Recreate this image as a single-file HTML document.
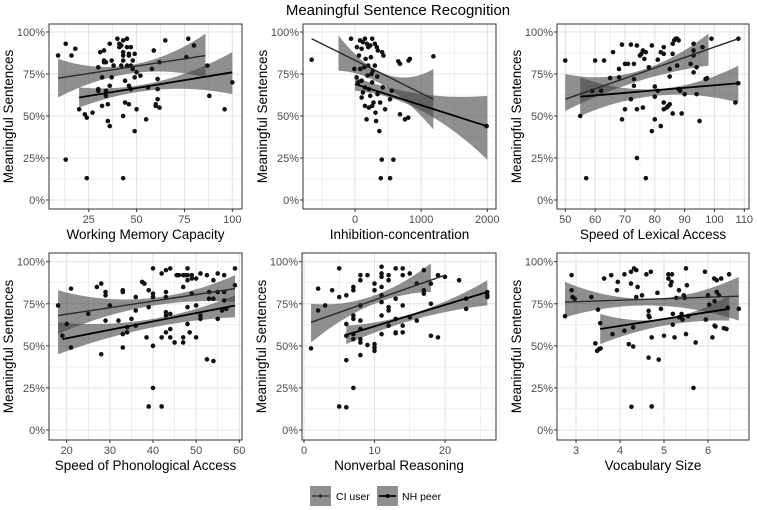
<!DOCTYPE html>
<html><head><meta charset="utf-8"><style>
body{margin:0;background:#fff;}
svg{display:block;font-family:"Liberation Sans",Arial,sans-serif;}
</style></head><body>
<svg id="chart" width="757" height="510" viewBox="0 0 757 510">
<text x="398" y="15" text-anchor="middle" font-size="15" fill="#000">Meaningful Sentence Recognition</text>
<g id="panels"></g>
<g>
  <rect x="310" y="486" width="21" height="20" fill="#8f8f8f"/>
  <line x1="312" y1="496" x2="329" y2="496" stroke="#333" stroke-width="1.3"/>
  <circle cx="320.5" cy="496" r="1.8" fill="#333"/>
  <text x="336" y="500" font-size="10.5" fill="#000">CI user</text>
  <rect x="377" y="486" width="21" height="20" fill="#8f8f8f"/>
  <line x1="379" y1="496" x2="396" y2="496" stroke="#000" stroke-width="1.7"/>
  <circle cx="387.5" cy="496" r="2" fill="#000"/>
  <text x="402" y="500" font-size="10.5" fill="#000">NH peer</text>
</g>
</svg>
<script>
// ---- data ----
const wmPoints=[[9,86],[13,93],[16,86],[18,90],[13,24],[20,54],[23,51],[24,49],[24,13],[27,52],[30,65],[30,66],[30,79],[31,88],[32,73],[32,56],[33,89],[33,82],[33,83],[34,82],[34,65],[34,62],[35,57],[35,47],[36,93],[36,68],[36,44],[37,83],[37,73],[38,80],[40,96],[41,93],[41,91],[42,92],[42,80],[43,95],[43,88],[43,86],[43,83],[43,50],[43,13],[44,71],[44,58],[45,96],[45,91],[45,80],[46,87],[46,86],[46,68],[46,57],[47,91],[47,80],[47,66],[48,83],[48,78],[49,73],[49,87],[49,41],[50,76],[50,54],[52,74],[55,48],[56,67],[58,78],[59,89],[60,57],[60,56],[61,60],[61,66],[61,72],[62,82],[62,55],[65,95],[76,85],[77,96],[80,92],[87,80],[88,62],[96,54],[100,70]];
const wmCiLine=[9,72.5,86,86];
const wmNhLine=[20,61,100,76];
const wmCiBand=[[9,61,84],[45,75,80],[86,73,99]];
const wmNhBand=[[20,55,67],[55,65,69],[100,63,88]];

const icPoints=[[-655,83.5],[-60,96],[75,95],[150,96],[260,96],[30,91],[100,90],[200,91],[330,91],[345,89],[120,94],[180,93],[230,92],[300,93],[410,88],[430,86],[-10,78],[25,73],[50,70],[100,71],[150,67],[100,61],[150,56],[175,48],[230,62],[280,58],[340,63],[380,58],[455,54],[318,47],[368,41],[405,24],[580,24],[530,13],[390,13],[680,51],[755,48],[805,49],[655,82.5],[680,81],[810,83],[830,84],[1185,85.5],[1990,44],[555,65],[530,60],[337,73.5],[300,80],[250,75],[270,77],[200,80],[160,84],[80,78],[60,86],[420,67],[120,64],[210,66],[260,70],[190,74],[140,79],[240,85],[210,55],[260,56],[310,52]];
const icCiLine=[-655,96,1185,60];
const icNhLine=[0,69,1990,44];
const icCiBand=[[-250,77,98],[250,72,79],[1185,42,78]];
const icNhBand=[[0,65,73],[600,60,66],[2000,24,62]];

const lexPoints=[[50,83],[55,50],[57,13],[59,65],[60,83],[62,65],[63,83],[65,72.6],[66,88],[68,78],[68,73],[69,92.5],[69,48],[70,81],[70,54],[71,81],[72,92.5],[72,60],[73,81],[73,72],[73,68],[74,54],[74,25],[74,92],[75,86],[75.5,87],[76,89],[76.5,84],[77,88],[76,55],[77,13],[78,79],[79,92],[79,41],[80,48],[80,61.5],[80,67.5],[81,83.5],[81,65],[82,88],[82,44],[83,58],[83,91],[83,87],[83,54],[84,55],[84.5,56],[85,57],[85,78],[86,93],[86.5,95],[87,96],[87.5,96],[88,95],[85,73.5],[86,51.5],[86,87],[87.5,80],[88,66],[88.5,65],[89,51.5],[90,63],[92,81],[93,93],[93,89],[93,86],[93,76],[94,63],[94,79],[95,47],[96,91],[97,72],[97.5,72.5],[99,96],[107,58],[108,96],[108,69.5]];
const lexCiLine=[50,60,108,96];
const lexNhLine=[55,61.5,108,69.5];
const lexCiBand=[[50,53,75],[75,71,77],[98,80,99]];
const lexNhBand=[[55,50,73],[80,62,66],[108,58,80]];

const phPoints=[[18,74],[19,56],[20,63],[21,84],[21,49],[25,69],[27,85],[28,87],[29,82],[29,80],[28,45],[29,65],[30,74],[32,65],[33,83],[33,82],[33,57],[33,49],[34,58],[34,61],[35,66],[36,79],[36,71],[36,62],[37.5,88],[38,87],[38.5,55],[39,83],[39,73],[39,14],[40,96],[40,81],[40,79],[40,50],[40,25],[42,55],[42,93],[42,14],[43,95],[43,82],[43,79],[43,70],[43,68],[43,58],[44,96],[44,69],[44,60],[44,55],[45,52],[45.5,92],[46,92],[47,92],[47.5,92],[48,92],[49,92],[47,85],[47,55],[47,52],[48,96],[48,89],[48,73],[48,63],[49,90],[48.5,58],[49,81],[50,74],[50,55],[50,90],[51,93],[51,68],[51,66],[52.5,92],[52.5,42],[53,82],[53,78],[54,89],[54,78],[54,41],[55,93],[55,82],[55,66],[56,71],[56.5,82],[56.5,77],[56.5,92],[57,72],[59,96],[59,86]];
const phCiLine=[18,68,59,84];
const phNhLine=[19,54,59,74];
const phCiBand=[[18,57,83],[38,73,78],[59,76,92]];
const phNhBand=[[18,45,64],[40,61,66],[59,67,80]];

const nvPoints=[[1,48.5],[2,84],[2,71],[3,74],[4,83],[5,96],[5,79],[5,14],[6,80],[6,63],[6,56],[6,41.5],[6,13.5],[7,85],[7,83],[7,68],[7,66],[7,57],[7,54],[7,25],[8,92],[8,89],[8,74],[8,65],[8,60],[8,54],[8,52],[8,44.5],[9,92],[9,50.5],[10,87],[10,83],[10,51],[10,49],[10,47],[11,97],[11,93],[11,91],[11,85],[11,80],[11,76],[11,68],[11,57],[12,92],[12,89],[12,73],[12,71],[12,62],[13,96],[13,78],[13,66],[13,58],[13,57.5],[14,96],[14,92],[14,74],[14,62],[14,58],[15,93],[15,67],[16,87],[16,65],[17,95],[17,83],[17,81],[18,87],[18,75],[18,56],[19,55],[19,92],[20,91],[22,89],[23,72],[23,78],[26,82],[26,80],[26,79]];
const nvCiLine=[1,64,20,92];
const nvNhLine=[6,56.5,26,82];
const nvCiBand=[[1,52,75],[10,75,80],[18,82,99]];
const nvNhBand=[[6,51,62],[16,66,70],[26,74,89]];

const vocPoints=[[2.75,67.6],[2.9,92],[2.9,83],[2.92,79],[2.97,78],[3.35,79],[3.44,51.5],[3.48,47],[3.52,48],[3.56,48.5],[3.5,71.5],[3.55,63.5],[3.64,90],[3.8,92],[3.83,57],[3.95,88],[3.93,83],[4.1,92.5],[4.1,59],[4.2,51],[4.25,94],[4.25,87],[4.26,13.8],[4.3,61],[4.3,49.6],[4.32,96],[4.37,95],[4.37,79],[4.4,85],[4.5,80],[4.6,92.5],[4.65,70.8],[4.65,68],[4.67,67],[4.65,43],[4.7,94],[4.72,55],[4.72,14],[4.85,81.5],[4.88,41.8],[4.93,72],[5,56],[5.1,92.5],[5.1,90],[5.15,86],[5.17,88],[5.18,92.5],[5.2,62.6],[5.2,69],[5.24,55],[5.28,78.5],[5.34,67],[5.34,83],[5.4,69],[5.42,65.6],[5.45,80],[5.47,78.5],[5.5,96],[5.5,57],[5.52,86],[5.55,67.6],[5.67,25],[5.72,52],[5.93,94],[5.95,65.6],[6,80],[6.03,74.5],[6.1,55],[6.14,90],[6.2,89],[6.15,62],[6.17,61.5],[6.15,76.5],[6.2,82],[6.25,80],[6.3,90],[6.36,60.5],[6.42,60],[6.45,72.6],[6.48,92.5],[6.7,72]];
const vocCiLine=[2.75,76,6.7,79.5];
const vocNhLine=[3.55,60,6.48,72];
const vocCiBand=[[2.75,67,88],[4.7,74,78],[6.7,65,91]];
const vocNhBand=[[3.55,51,69],[5,62,66],[6.48,65,80]];

const wmTicks=[25,50,75,100];
const icTicks=[0,1000,2000];
const lexTicks=[50,60,70,80,90,100,110];
const phTicks=[20,30,40,50,60];
const nvTicks=[0,10,20];
const vocTicks=[3,4,5,6];
const yTicks=[0,25,50,75,100];
const yTickLabels=["0%","25%","50%","75%","100%"];

// ---- layout ----
const NS="http://www.w3.org/2000/svg";
const root=document.getElementById('panels');
function mk(tag,attrs,parent){const e=document.createElementNS(NS,tag);for(const k in attrs)e.setAttribute(k,attrs[k]);(parent||root).appendChild(e);return e;}
const panels=[
 {key:'working-memory',title:'Working Memory Capacity',L:49,R:242,T:24,B:209,y100:32,y0:200,a:25,pa:88.7,b:100,pb:232.3,ticks:wmTicks,pts:wmPoints,ciL:wmCiLine,nhL:wmNhLine,ciB:wmCiBand,nhB:wmNhBand},
 {key:'inhibition',title:'Inhibition-concentration',L:303,R:496,T:24,B:209,y100:32,y0:200,a:0,pa:355,b:2000,pb:487.3,ticks:icTicks,pts:icPoints,ciL:icCiLine,nhL:icNhLine,ciB:icCiBand,nhB:icNhBand},
 {key:'lexical-access',title:'Speed of Lexical Access',L:557,R:749,T:24,B:209,y100:32,y0:200,a:50,pa:565.3,b:110,pb:744.3,ticks:lexTicks,pts:lexPoints,ciL:lexCiLine,nhL:lexNhLine,ciB:lexCiBand,nhB:lexNhBand},
 {key:'phonological-access',title:'Speed of Phonological Access',L:49,R:242,T:253,B:440,y100:261.7,y0:430,a:20,pa:66.7,b:60,pb:239.3,ticks:phTicks,pts:phPoints,ciL:phCiLine,nhL:phNhLine,ciB:phCiBand,nhB:phNhBand},
 {key:'nonverbal-reasoning',title:'Nonverbal Reasoning',L:302,R:496,T:253,B:440,y100:261.7,y0:430,a:0,pa:304,b:20,pb:445,ticks:nvTicks,pts:nvPoints,ciL:nvCiLine,nhL:nvNhLine,ciB:nvCiBand,nhB:nvNhBand},
 {key:'vocabulary-size',title:'Vocabulary Size',L:557,R:749,T:253,B:440,y100:261.7,y0:430,a:3,pa:576,b:6,pb:708,ticks:vocTicks,pts:vocPoints,ciL:vocCiLine,nhL:vocNhLine,ciB:vocCiBand,nhB:vocNhBand}
];
function bandPath(p,band,sx,sy){
  // quadratic through the three band samples
  const [q0,q1,q2]=band;
  function f(x,i){const x0=q0[0],x1=q1[0],x2=q2[0];
    return q0[i]*(x-x1)*(x-x2)/((x0-x1)*(x0-x2))+q1[i]*(x-x0)*(x-x2)/((x1-x0)*(x1-x2))+q2[i]*(x-x0)*(x-x1)/((x2-x0)*(x2-x1));}
  const n=24,up=[],lo=[];
  for(let k=0;k<=n;k++){const x=q0[0]+(q2[0]-q0[0])*k/n;up.push(sx(x)+','+sy(f(x,2)));lo.unshift(sx(x)+','+sy(f(x,1)));}
  return up.concat(lo).join(' ');
}
panels.forEach(p=>{
  const g=mk('g',{});
  
  
  const sx=v=>p.pa+(v-p.a)*(p.pb-p.pa)/(p.b-p.a);
  const sy=v=>p.y0+(p.y100-p.y0)*v/100;
  const clipId='clip-'+p.key;
  const cp=mk('clipPath',{id:clipId},g);mk('rect',{x:p.L,y:p.T,width:p.R-p.L,height:p.B-p.T},cp);
  mk('rect',{x:p.L,y:p.T,width:p.R-p.L,height:p.B-p.T,fill:'#fff'},g);
  // grid
  const grid=mk('g',{'clip-path':'url(#'+clipId+')'},g);
  
  
  const step=p.ticks[1]-p.ticks[0];
  for(let v=p.ticks[0]-step*1.5;v<=p.ticks[p.ticks.length-1]+step*1.5;v+=step/2){
    const major=Math.abs(((v-p.ticks[0])/step)%1)<1e-6;
    mk('line',{x1:sx(v),x2:sx(v),y1:p.T,y2:p.B,stroke:'#e3e3e3','stroke-width':major?1.1:0.6},grid);
  }
  for(let v=-12.5;v<=112.5;v+=12.5){
    const major=v%25===0;
    mk('line',{x1:p.L,x2:p.R,y1:sy(v),y2:sy(v),stroke:'#e3e3e3','stroke-width':major?1.1:0.6},grid);
  }
  const marks=mk('g',{'clip-path':'url(#'+clipId+')'},g);
  const b1=mk('polygon',{points:bandPath(p,p.ciB,sx,sy),fill:'#444','fill-opacity':0.6},marks);
  
  
  const b2=mk('polygon',{points:bandPath(p,p.nhB,sx,sy),fill:'#444','fill-opacity':0.6},marks);
  
  
  p.pts.forEach(d=>{
    const c=mk('circle',{cx:sx(d[0]),cy:sy(d[1]),r:2.3,fill:'#111'},marks);
    
    
  });
  const l1=mk('line',{x1:sx(p.ciL[0]),y1:sy(p.ciL[1]),x2:sx(p.ciL[2]),y2:sy(p.ciL[3]),stroke:'#2a2a2a','stroke-width':1.4},marks);
  
  
  const l2=mk('line',{x1:sx(p.nhL[0]),y1:sy(p.nhL[1]),x2:sx(p.nhL[2]),y2:sy(p.nhL[3]),stroke:'#000','stroke-width':1.8},marks);
  
  
  mk('rect',{x:p.L,y:p.T,width:p.R-p.L,height:p.B-p.T,fill:'none',stroke:'#333','stroke-width':1},g);
  // y ticks
  yTicks.forEach((v,i)=>{
    mk('line',{x1:p.L-3,x2:p.L,y1:sy(v),y2:sy(v),stroke:'#333'},g);
    const t=mk('text',{x:p.L-4,y:sy(v)+4,'text-anchor':'end','font-size':11,fill:'#4d4d4d'},g);
    t.textContent=yTickLabels[i];
    
    
  });
  p.ticks.forEach(v=>{
    mk('line',{x1:sx(v),x2:sx(v),y1:p.B,y2:p.B+3,stroke:'#333'},g);
    const t=mk('text',{x:sx(v),y:p.B+14,'text-anchor':'middle','font-size':11,fill:'#4d4d4d'},g);
    t.textContent=String(v);
    
    
  });
  const xt=mk('text',{x:(p.L+p.R)/2,y:p.B+30,'text-anchor':'middle','font-size':13.5,fill:'#000'},g);
  xt.textContent=p.title;
  
  
  const cy=(p.T+p.B)/2, cx=p.L-36;
  const yt=mk('text',{x:cx,y:cy,'text-anchor':'middle','font-size':13.5,fill:'#000',transform:'rotate(-90 '+cx+' '+cy+')'},g);
  yt.textContent='Meaningful Sentences';
  
  
});
</script>
</body></html>
